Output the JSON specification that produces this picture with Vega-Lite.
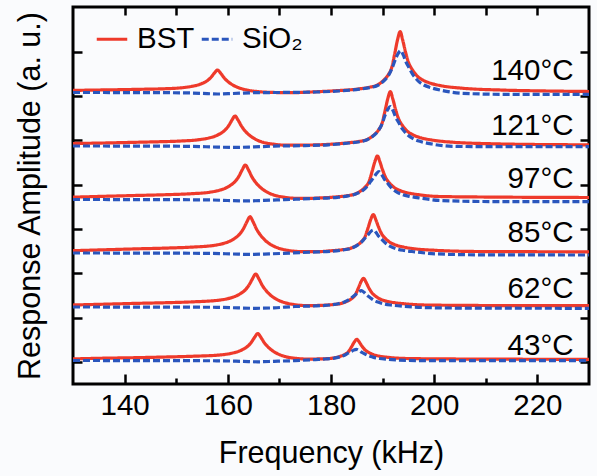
{
  "$schema": "https://vega.github.io/schema/vega-lite/v6.json",
  "width": 516,
  "height": 377,
  "autosize": {"type": "none"},
  "padding": {"left": 73, "top": 7, "right": 8, "bottom": 92},
  "background": "#fafbfd",
  "config": {
    "font": "Liberation Sans",
    "view": {"stroke": "#000", "strokeWidth": 3},
    "axis": {"grid": false, "domain": false, "tickColor": "#000", "tickWidth": 2.5, "labelColor": "#000", "titleColor": "#000", "labelFont": "Liberation Sans", "titleFont": "Liberation Sans", "titleFontWeight": "normal"},
    "legend": {"padding": 0, "offset": 0}
  },
  "datasets": {
    "bst": [
      {"material":"BST","temp":"43","freq":130,"amp":25.1},{"material":"BST","temp":"43","freq":136,"amp":25.8},{"material":"BST","temp":"43","freq":142,"amp":26.3},{"material":"BST","temp":"43","freq":148,"amp":27.0},{"material":"BST","temp":"43","freq":153,"amp":27.7},{"material":"BST","temp":"43","freq":158.8,"amp":29.2},{"material":"BST","temp":"43","freq":160.8,"amp":30.8},{"material":"BST","temp":"43","freq":161.8,"amp":32.1},{"material":"BST","temp":"43","freq":162.8,"amp":34.3},{"material":"BST","temp":"43","freq":163.8,"amp":37.5},{"material":"BST","temp":"43","freq":164.5,"amp":41.3},{"material":"BST","temp":"43","freq":165.2,"amp":46.7},{"material":"BST","temp":"43","freq":165.8,"amp":50.5},{"material":"BST","temp":"43","freq":166.4,"amp":46.7},{"material":"BST","temp":"43","freq":167.1,"amp":41.1},{"material":"BST","temp":"43","freq":167.8,"amp":37.0},{"material":"BST","temp":"43","freq":168.8,"amp":32.8},{"material":"BST","temp":"43","freq":169.8,"amp":29.9},{"material":"BST","temp":"43","freq":171.3,"amp":27.2},{"material":"BST","temp":"43","freq":173.3,"amp":25.6},{"material":"BST","temp":"43","freq":175.8,"amp":24.9},{"material":"BST","temp":"43","freq":177,"amp":25.0},{"material":"BST","temp":"43","freq":179,"amp":25.3},{"material":"BST","temp":"43","freq":180.5,"amp":26.0},{"material":"BST","temp":"43","freq":181.8,"amp":27.7},{"material":"BST","temp":"43","freq":182.6,"amp":29.4},{"material":"BST","temp":"43","freq":183.4,"amp":32.4},{"material":"BST","temp":"43","freq":184.0,"amp":37.4},{"material":"BST","temp":"43","freq":184.5,"amp":41.8},{"material":"BST","temp":"43","freq":185.0,"amp":44.7},{"material":"BST","temp":"43","freq":185.5,"amp":41.7},{"material":"BST","temp":"43","freq":186.0,"amp":37.9},{"material":"BST","temp":"43","freq":186.6,"amp":34.1},{"material":"BST","temp":"43","freq":187.4,"amp":31.3},{"material":"BST","temp":"43","freq":188.2,"amp":29.4},{"material":"BST","temp":"43","freq":189.5,"amp":27.7},{"material":"BST","temp":"43","freq":191,"amp":26.7},{"material":"BST","temp":"43","freq":193,"amp":25.8},{"material":"BST","temp":"43","freq":197,"amp":25.3},{"material":"BST","temp":"43","freq":205,"amp":25.0},{"material":"BST","temp":"43","freq":215,"amp":24.8},{"material":"BST","temp":"43","freq":230,"amp":24.7},
      {"material":"BST","temp":"62","freq":130,"amp":79.0},{"material":"BST","temp":"62","freq":136,"amp":79.8},{"material":"BST","temp":"62","freq":142,"amp":80.6},{"material":"BST","temp":"62","freq":148,"amp":81.3},{"material":"BST","temp":"62","freq":153,"amp":82.1},{"material":"BST","temp":"62","freq":158.4,"amp":83.9},{"material":"BST","temp":"62","freq":160.4,"amp":85.9},{"material":"BST","temp":"62","freq":161.4,"amp":87.6},{"material":"BST","temp":"62","freq":162.4,"amp":90.2},{"material":"BST","temp":"62","freq":163.4,"amp":94.2},{"material":"BST","temp":"62","freq":164.1,"amp":98.8},{"material":"BST","temp":"62","freq":164.8,"amp":105.4},{"material":"BST","temp":"62","freq":165.4,"amp":110.0},{"material":"BST","temp":"62","freq":166.0,"amp":105.4},{"material":"BST","temp":"62","freq":166.7,"amp":98.5},{"material":"BST","temp":"62","freq":167.4,"amp":93.5},{"material":"BST","temp":"62","freq":168.4,"amp":88.3},{"material":"BST","temp":"62","freq":169.4,"amp":84.8},{"material":"BST","temp":"62","freq":170.9,"amp":81.6},{"material":"BST","temp":"62","freq":172.9,"amp":79.4},{"material":"BST","temp":"62","freq":175.4,"amp":78.4},{"material":"BST","temp":"62","freq":178.3,"amp":78.7},{"material":"BST","temp":"62","freq":180.3,"amp":79.4},{"material":"BST","temp":"62","freq":181.8,"amp":80.4},{"material":"BST","temp":"62","freq":183.1,"amp":82.7},{"material":"BST","temp":"62","freq":183.9,"amp":85.0},{"material":"BST","temp":"62","freq":184.7,"amp":89.1},{"material":"BST","temp":"62","freq":185.3,"amp":95.9},{"material":"BST","temp":"62","freq":185.8,"amp":102.0},{"material":"BST","temp":"62","freq":186.3,"amp":105.7},{"material":"BST","temp":"62","freq":186.8,"amp":101.7},{"material":"BST","temp":"62","freq":187.3,"amp":96.5},{"material":"BST","temp":"62","freq":187.9,"amp":91.4},{"material":"BST","temp":"62","freq":188.7,"amp":87.6},{"material":"BST","temp":"62","freq":189.5,"amp":85.0},{"material":"BST","temp":"62","freq":190.8,"amp":82.7},{"material":"BST","temp":"62","freq":192.3,"amp":81.3},{"material":"BST","temp":"62","freq":194.3,"amp":80.2},{"material":"BST","temp":"62","freq":198.3,"amp":79.0},{"material":"BST","temp":"62","freq":206.3,"amp":78.6},{"material":"BST","temp":"62","freq":215,"amp":78.4},{"material":"BST","temp":"62","freq":230,"amp":78.3},
      {"material":"BST","temp":"85","freq":130,"amp":133.3},{"material":"BST","temp":"85","freq":136,"amp":134.2},{"material":"BST","temp":"85","freq":142,"amp":135.1},{"material":"BST","temp":"85","freq":148,"amp":135.9},{"material":"BST","temp":"85","freq":153,"amp":136.9},{"material":"BST","temp":"85","freq":157.3,"amp":138.6},{"material":"BST","temp":"85","freq":159.3,"amp":140.8},{"material":"BST","temp":"85","freq":160.3,"amp":142.6},{"material":"BST","temp":"85","freq":161.3,"amp":145.5},{"material":"BST","temp":"85","freq":162.3,"amp":149.9},{"material":"BST","temp":"85","freq":163.0,"amp":155.0},{"material":"BST","temp":"85","freq":163.7,"amp":162.2},{"material":"BST","temp":"85","freq":164.3,"amp":167.3},{"material":"BST","temp":"85","freq":164.9,"amp":162.2},{"material":"BST","temp":"85","freq":165.6,"amp":154.6},{"material":"BST","temp":"85","freq":166.3,"amp":149.1},{"material":"BST","temp":"85","freq":167.3,"amp":143.4},{"material":"BST","temp":"85","freq":168.3,"amp":139.5},{"material":"BST","temp":"85","freq":169.8,"amp":135.9},{"material":"BST","temp":"85","freq":171.8,"amp":133.5},{"material":"BST","temp":"85","freq":174.3,"amp":132.4},{"material":"BST","temp":"85","freq":177,"amp":132.3},{"material":"BST","temp":"85","freq":180.2,"amp":133.3},{"material":"BST","temp":"85","freq":182.2,"amp":134.3},{"material":"BST","temp":"85","freq":183.7,"amp":135.6},{"material":"BST","temp":"85","freq":185.0,"amp":138.7},{"material":"BST","temp":"85","freq":185.8,"amp":141.8},{"material":"BST","temp":"85","freq":186.6,"amp":147.2},{"material":"BST","temp":"85","freq":187.2,"amp":156.4},{"material":"BST","temp":"85","freq":187.7,"amp":164.5},{"material":"BST","temp":"85","freq":188.2,"amp":169.5},{"material":"BST","temp":"85","freq":188.7,"amp":164.1},{"material":"BST","temp":"85","freq":189.2,"amp":157.2},{"material":"BST","temp":"85","freq":189.8,"amp":150.3},{"material":"BST","temp":"85","freq":190.6,"amp":145.2},{"material":"BST","temp":"85","freq":191.4,"amp":141.8},{"material":"BST","temp":"85","freq":192.7,"amp":138.7},{"material":"BST","temp":"85","freq":194.2,"amp":136.8},{"material":"BST","temp":"85","freq":196.2,"amp":135.2},{"material":"BST","temp":"85","freq":200.2,"amp":133.7},{"material":"BST","temp":"85","freq":208.2,"amp":132.5},{"material":"BST","temp":"85","freq":218,"amp":132.3},{"material":"BST","temp":"85","freq":230,"amp":132.2},
      {"material":"BST","temp":"97","freq":130,"amp":186.8},{"material":"BST","temp":"97","freq":136,"amp":187.7},{"material":"BST","temp":"97","freq":142,"amp":188.5},{"material":"BST","temp":"97","freq":148,"amp":189.3},{"material":"BST","temp":"97","freq":153,"amp":190.3},{"material":"BST","temp":"97","freq":156.4,"amp":191.7},{"material":"BST","temp":"97","freq":158.4,"amp":193.8},{"material":"BST","temp":"97","freq":159.4,"amp":195.5},{"material":"BST","temp":"97","freq":160.4,"amp":198.3},{"material":"BST","temp":"97","freq":161.4,"amp":202.4},{"material":"BST","temp":"97","freq":162.1,"amp":207.3},{"material":"BST","temp":"97","freq":162.8,"amp":214.2},{"material":"BST","temp":"97","freq":163.4,"amp":219.0},{"material":"BST","temp":"97","freq":164.0,"amp":214.2},{"material":"BST","temp":"97","freq":164.7,"amp":206.9},{"material":"BST","temp":"97","freq":165.4,"amp":201.6},{"material":"BST","temp":"97","freq":166.4,"amp":196.2},{"material":"BST","temp":"97","freq":167.4,"amp":192.5},{"material":"BST","temp":"97","freq":168.9,"amp":189.0},{"material":"BST","temp":"97","freq":170.9,"amp":186.8},{"material":"BST","temp":"97","freq":173.4,"amp":185.7},{"material":"BST","temp":"97","freq":176,"amp":185.7},{"material":"BST","temp":"97","freq":178,"amp":186.1},{"material":"BST","temp":"97","freq":181,"amp":187.1},{"material":"BST","temp":"97","freq":183,"amp":188.2},{"material":"BST","temp":"97","freq":184.5,"amp":189.7},{"material":"BST","temp":"97","freq":185.8,"amp":193.2},{"material":"BST","temp":"97","freq":186.6,"amp":196.7},{"material":"BST","temp":"97","freq":187.4,"amp":202.8},{"material":"BST","temp":"97","freq":188.0,"amp":213.2},{"material":"BST","temp":"97","freq":188.5,"amp":222.3},{"material":"BST","temp":"97","freq":189.0,"amp":228.0},{"material":"BST","temp":"97","freq":189.5,"amp":221.9},{"material":"BST","temp":"97","freq":190.0,"amp":214.1},{"material":"BST","temp":"97","freq":190.6,"amp":206.3},{"material":"BST","temp":"97","freq":191.4,"amp":200.6},{"material":"BST","temp":"97","freq":192.2,"amp":196.7},{"material":"BST","temp":"97","freq":193.5,"amp":193.2},{"material":"BST","temp":"97","freq":195,"amp":191.0},{"material":"BST","temp":"97","freq":197,"amp":189.3},{"material":"BST","temp":"97","freq":201,"amp":187.5},{"material":"BST","temp":"97","freq":209,"amp":187.0},{"material":"BST","temp":"97","freq":218,"amp":186.7},{"material":"BST","temp":"97","freq":230,"amp":186.5},
      {"material":"BST","temp":"121","freq":130,"amp":240.5},{"material":"BST","temp":"121","freq":136,"amp":241.0},{"material":"BST","temp":"121","freq":142,"amp":241.7},{"material":"BST","temp":"121","freq":147,"amp":242.3},{"material":"BST","temp":"121","freq":151,"amp":243.0},{"material":"BST","temp":"121","freq":154.4,"amp":244.3},{"material":"BST","temp":"121","freq":156.4,"amp":246.1},{"material":"BST","temp":"121","freq":157.4,"amp":247.6},{"material":"BST","temp":"121","freq":158.4,"amp":250.0},{"material":"BST","temp":"121","freq":159.4,"amp":253.6},{"material":"BST","temp":"121","freq":160.1,"amp":257.8},{"material":"BST","temp":"121","freq":160.8,"amp":263.8},{"material":"BST","temp":"121","freq":161.4,"amp":268.0},{"material":"BST","temp":"121","freq":162.0,"amp":263.8},{"material":"BST","temp":"121","freq":162.7,"amp":257.5},{"material":"BST","temp":"121","freq":163.4,"amp":252.7},{"material":"BST","temp":"121","freq":164.4,"amp":247.9},{"material":"BST","temp":"121","freq":165.4,"amp":244.6},{"material":"BST","temp":"121","freq":166.9,"amp":241.6},{"material":"BST","temp":"121","freq":168.9,"amp":239.8},{"material":"BST","temp":"121","freq":171.4,"amp":238.8},{"material":"BST","temp":"121","freq":175,"amp":238.9},{"material":"BST","temp":"121","freq":179,"amp":239.5},{"material":"BST","temp":"121","freq":183.5,"amp":241.3},{"material":"BST","temp":"121","freq":185.5,"amp":242.6},{"material":"BST","temp":"121","freq":187,"amp":244.5},{"material":"BST","temp":"121","freq":188.3,"amp":248.9},{"material":"BST","temp":"121","freq":189.1,"amp":253.2},{"material":"BST","temp":"121","freq":189.9,"amp":260.8},{"material":"BST","temp":"121","freq":190.5,"amp":273.8},{"material":"BST","temp":"121","freq":191.0,"amp":285.2},{"material":"BST","temp":"121","freq":191.5,"amp":292.3},{"material":"BST","temp":"121","freq":192.0,"amp":284.7},{"material":"BST","temp":"121","freq":192.5,"amp":274.9},{"material":"BST","temp":"121","freq":193.1,"amp":265.2},{"material":"BST","temp":"121","freq":193.9,"amp":258.1},{"material":"BST","temp":"121","freq":194.7,"amp":253.2},{"material":"BST","temp":"121","freq":196,"amp":248.9},{"material":"BST","temp":"121","freq":197.5,"amp":246.1},{"material":"BST","temp":"121","freq":199.5,"amp":244.0},{"material":"BST","temp":"121","freq":203.5,"amp":241.8},{"material":"BST","temp":"121","freq":211.5,"amp":240.2},{"material":"BST","temp":"121","freq":220,"amp":239.5},{"material":"BST","temp":"121","freq":230,"amp":239.2},
      {"material":"BST","temp":"140","freq":130,"amp":293.6},{"material":"BST","temp":"140","freq":135,"amp":294.0},{"material":"BST","temp":"140","freq":140,"amp":294.4},{"material":"BST","temp":"140","freq":144,"amp":294.8},{"material":"BST","temp":"140","freq":148,"amp":295.3},{"material":"BST","temp":"140","freq":151,"amp":296.2},{"material":"BST","temp":"140","freq":153,"amp":297.6},{"material":"BST","temp":"140","freq":154,"amp":298.7},{"material":"BST","temp":"140","freq":155,"amp":300.5},{"material":"BST","temp":"140","freq":156,"amp":303.2},{"material":"BST","temp":"140","freq":156.7,"amp":306.4},{"material":"BST","temp":"140","freq":157.4,"amp":310.9},{"material":"BST","temp":"140","freq":158.0,"amp":314.0},{"material":"BST","temp":"140","freq":158.6,"amp":310.9},{"material":"BST","temp":"140","freq":159.3,"amp":306.1},{"material":"BST","temp":"140","freq":160,"amp":302.5},{"material":"BST","temp":"140","freq":161,"amp":298.9},{"material":"BST","temp":"140","freq":162,"amp":296.5},{"material":"BST","temp":"140","freq":163.5,"amp":294.2},{"material":"BST","temp":"140","freq":165.5,"amp":292.6},{"material":"BST","temp":"140","freq":168,"amp":291.7},{"material":"BST","temp":"140","freq":172,"amp":291.3},{"material":"BST","temp":"140","freq":177,"amp":292.2},{"material":"BST","temp":"140","freq":181,"amp":293.3},{"material":"BST","temp":"140","freq":185.4,"amp":295.1},{"material":"BST","temp":"140","freq":187.4,"amp":296.7},{"material":"BST","temp":"140","freq":188.9,"amp":298.8},{"material":"BST","temp":"140","freq":190.2,"amp":303.7},{"material":"BST","temp":"140","freq":191.0,"amp":308.5},{"material":"BST","temp":"140","freq":191.8,"amp":317.0},{"material":"BST","temp":"140","freq":192.4,"amp":331.6},{"material":"BST","temp":"140","freq":192.9,"amp":344.4},{"material":"BST","temp":"140","freq":193.4,"amp":352.3},{"material":"BST","temp":"140","freq":193.9,"amp":343.8},{"material":"BST","temp":"140","freq":194.4,"amp":332.8},{"material":"BST","temp":"140","freq":195.0,"amp":321.9},{"material":"BST","temp":"140","freq":195.8,"amp":314.0},{"material":"BST","temp":"140","freq":196.6,"amp":308.5},{"material":"BST","temp":"140","freq":197.9,"amp":303.7},{"material":"BST","temp":"140","freq":199.4,"amp":300.6},{"material":"BST","temp":"140","freq":201.4,"amp":298.2},{"material":"BST","temp":"140","freq":205.4,"amp":295.8},{"material":"BST","temp":"140","freq":213.4,"amp":293.9},{"material":"BST","temp":"140","freq":222,"amp":293.0},{"material":"BST","temp":"140","freq":230,"amp":292.5}
    ],
    "sio2": [
      {"material":"SiO₂","temp":"43","freq":130,"amp":23.5},{"material":"SiO₂","temp":"43","freq":145,"amp":23.4},{"material":"SiO₂","temp":"43","freq":158,"amp":23.2},{"material":"SiO₂","temp":"43","freq":163,"amp":22.6},{"material":"SiO₂","temp":"43","freq":165.8,"amp":22.2},{"material":"SiO₂","temp":"43","freq":169,"amp":22.7},{"material":"SiO₂","temp":"43","freq":173,"amp":23.4},{"material":"SiO₂","temp":"43","freq":177,"amp":24.4},{"material":"SiO₂","temp":"43","freq":179,"amp":25.0},{"material":"SiO₂","temp":"43","freq":180.4,"amp":25.7},{"material":"SiO₂","temp":"43","freq":181.7,"amp":27.1},{"material":"SiO₂","temp":"43","freq":182.5,"amp":28.5},{"material":"SiO₂","temp":"43","freq":183.3,"amp":30.8},{"material":"SiO₂","temp":"43","freq":183.9,"amp":32.5},{"material":"SiO₂","temp":"43","freq":184.4,"amp":33.9},{"material":"SiO₂","temp":"43","freq":184.9,"amp":34.7},{"material":"SiO₂","temp":"43","freq":185.4,"amp":33.6},{"material":"SiO₂","temp":"43","freq":185.9,"amp":31.8},{"material":"SiO₂","temp":"43","freq":186.5,"amp":30.2},{"material":"SiO₂","temp":"43","freq":187.3,"amp":28.2},{"material":"SiO₂","temp":"43","freq":188.1,"amp":26.9},{"material":"SiO₂","temp":"43","freq":189.4,"amp":25.5},{"material":"SiO₂","temp":"43","freq":190.9,"amp":24.7},{"material":"SiO₂","temp":"43","freq":192.9,"amp":24.0},{"material":"SiO₂","temp":"43","freq":197,"amp":23.4},{"material":"SiO₂","temp":"43","freq":205,"amp":23.3},{"material":"SiO₂","temp":"43","freq":230,"amp":23.3},
      {"material":"SiO₂","temp":"62","freq":130,"amp":77.0},{"material":"SiO₂","temp":"62","freq":145,"amp":76.9},{"material":"SiO₂","temp":"62","freq":158,"amp":76.7},{"material":"SiO₂","temp":"62","freq":162,"amp":76.1},{"material":"SiO₂","temp":"62","freq":165.4,"amp":75.7},{"material":"SiO₂","temp":"62","freq":169,"amp":76.2},{"material":"SiO₂","temp":"62","freq":173,"amp":77.5},{"material":"SiO₂","temp":"62","freq":177.9,"amp":78.3},{"material":"SiO₂","temp":"62","freq":179.9,"amp":79.1},{"material":"SiO₂","temp":"62","freq":181.4,"amp":80.3},{"material":"SiO₂","temp":"62","freq":182.7,"amp":82.2},{"material":"SiO₂","temp":"62","freq":183.5,"amp":84.3},{"material":"SiO₂","temp":"62","freq":184.3,"amp":87.6},{"material":"SiO₂","temp":"62","freq":184.9,"amp":90.0},{"material":"SiO₂","temp":"62","freq":185.4,"amp":92.2},{"material":"SiO₂","temp":"62","freq":185.9,"amp":93.3},{"material":"SiO₂","temp":"62","freq":186.4,"amp":91.7},{"material":"SiO₂","temp":"62","freq":186.9,"amp":89.1},{"material":"SiO₂","temp":"62","freq":187.5,"amp":86.8},{"material":"SiO₂","temp":"62","freq":188.3,"amp":83.8},{"material":"SiO₂","temp":"62","freq":189.1,"amp":81.9},{"material":"SiO₂","temp":"62","freq":190.4,"amp":79.9},{"material":"SiO₂","temp":"62","freq":191.9,"amp":78.8},{"material":"SiO₂","temp":"62","freq":193.9,"amp":77.8},{"material":"SiO₂","temp":"62","freq":197.9,"amp":76.5},{"material":"SiO₂","temp":"62","freq":206,"amp":75.9},{"material":"SiO₂","temp":"62","freq":230,"amp":75.7},
      {"material":"SiO₂","temp":"85","freq":130,"amp":131.0},{"material":"SiO₂","temp":"85","freq":145,"amp":130.9},{"material":"SiO₂","temp":"85","freq":157,"amp":130.6},{"material":"SiO₂","temp":"85","freq":161,"amp":130.0},{"material":"SiO₂","temp":"85","freq":164.3,"amp":129.6},{"material":"SiO₂","temp":"85","freq":168,"amp":130.1},{"material":"SiO₂","temp":"85","freq":172,"amp":130.9},{"material":"SiO₂","temp":"85","freq":176.2,"amp":131.9},{"material":"SiO₂","temp":"85","freq":180.2,"amp":132.8},{"material":"SiO₂","temp":"85","freq":182.2,"amp":134.0},{"material":"SiO₂","temp":"85","freq":183.7,"amp":135.3},{"material":"SiO₂","temp":"85","freq":185.0,"amp":138.4},{"material":"SiO₂","temp":"85","freq":185.8,"amp":141.4},{"material":"SiO₂","temp":"85","freq":186.6,"amp":146.0},{"material":"SiO₂","temp":"85","freq":187.2,"amp":149.4},{"material":"SiO₂","temp":"85","freq":187.7,"amp":152.4},{"material":"SiO₂","temp":"85","freq":188.2,"amp":154.0},{"material":"SiO₂","temp":"85","freq":188.7,"amp":151.7},{"material":"SiO₂","temp":"85","freq":189.2,"amp":148.0},{"material":"SiO₂","temp":"85","freq":189.8,"amp":144.8},{"material":"SiO₂","temp":"85","freq":190.6,"amp":140.7},{"material":"SiO₂","temp":"85","freq":191.4,"amp":137.9},{"material":"SiO₂","temp":"85","freq":192.7,"amp":135.1},{"material":"SiO₂","temp":"85","freq":194.2,"amp":133.5},{"material":"SiO₂","temp":"85","freq":196.2,"amp":132.2},{"material":"SiO₂","temp":"85","freq":200.2,"amp":130.2},{"material":"SiO₂","temp":"85","freq":208.2,"amp":129.2},{"material":"SiO₂","temp":"85","freq":230,"amp":129.0},
      {"material":"SiO₂","temp":"97","freq":130,"amp":184.5},{"material":"SiO₂","temp":"97","freq":145,"amp":184.4},{"material":"SiO₂","temp":"97","freq":156,"amp":184.1},{"material":"SiO₂","temp":"97","freq":160,"amp":183.5},{"material":"SiO₂","temp":"97","freq":163.4,"amp":183.1},{"material":"SiO₂","temp":"97","freq":167,"amp":183.6},{"material":"SiO₂","temp":"97","freq":171,"amp":184.4},{"material":"SiO₂","temp":"97","freq":177.3,"amp":185.6},{"material":"SiO₂","temp":"97","freq":181.3,"amp":186.7},{"material":"SiO₂","temp":"97","freq":183.3,"amp":188.1},{"material":"SiO₂","temp":"97","freq":184.8,"amp":190.1},{"material":"SiO₂","temp":"97","freq":186.1,"amp":193.4},{"material":"SiO₂","temp":"97","freq":186.9,"amp":197.0},{"material":"SiO₂","temp":"97","freq":187.7,"amp":202.6},{"material":"SiO₂","temp":"97","freq":188.3,"amp":206.7},{"material":"SiO₂","temp":"97","freq":188.8,"amp":210.4},{"material":"SiO₂","temp":"97","freq":189.3,"amp":212.3},{"material":"SiO₂","temp":"97","freq":189.8,"amp":209.5},{"material":"SiO₂","temp":"97","freq":190.3,"amp":205.1},{"material":"SiO₂","temp":"97","freq":190.9,"amp":201.2},{"material":"SiO₂","temp":"97","freq":191.7,"amp":196.2},{"material":"SiO₂","temp":"97","freq":192.5,"amp":192.8},{"material":"SiO₂","temp":"97","freq":193.8,"amp":189.5},{"material":"SiO₂","temp":"97","freq":195.3,"amp":187.6},{"material":"SiO₂","temp":"97","freq":197.3,"amp":185.9},{"material":"SiO₂","temp":"97","freq":201.3,"amp":183.5},{"material":"SiO₂","temp":"97","freq":209.3,"amp":182.5},{"material":"SiO₂","temp":"97","freq":230,"amp":182.3},
      {"material":"SiO₂","temp":"121","freq":130,"amp":238.0},{"material":"SiO₂","temp":"121","freq":145,"amp":237.9},{"material":"SiO₂","temp":"121","freq":153,"amp":237.6},{"material":"SiO₂","temp":"121","freq":158,"amp":236.9},{"material":"SiO₂","temp":"121","freq":161.4,"amp":236.6},{"material":"SiO₂","temp":"121","freq":165,"amp":237.1},{"material":"SiO₂","temp":"121","freq":169,"amp":237.9},{"material":"SiO₂","temp":"121","freq":175,"amp":238.4},{"material":"SiO₂","temp":"121","freq":179.5,"amp":239.2},{"material":"SiO₂","temp":"121","freq":183.5,"amp":241.0},{"material":"SiO₂","temp":"121","freq":185.5,"amp":242.3},{"material":"SiO₂","temp":"121","freq":187,"amp":244.2},{"material":"SiO₂","temp":"121","freq":188.3,"amp":248.6},{"material":"SiO₂","temp":"121","freq":189.1,"amp":252.9},{"material":"SiO₂","temp":"121","freq":189.9,"amp":260.3},{"material":"SiO₂","temp":"121","freq":190.5,"amp":269.0},{"material":"SiO₂","temp":"121","freq":191.0,"amp":274.5},{"material":"SiO₂","temp":"121","freq":191.5,"amp":277.5},{"material":"SiO₂","temp":"121","freq":192.0,"amp":273.6},{"material":"SiO₂","temp":"121","freq":192.5,"amp":267.2},{"material":"SiO₂","temp":"121","freq":193.1,"amp":261.7},{"material":"SiO₂","temp":"121","freq":193.9,"amp":254.6},{"material":"SiO₂","temp":"121","freq":194.7,"amp":249.9},{"material":"SiO₂","temp":"121","freq":196.0,"amp":245.1},{"material":"SiO₂","temp":"121","freq":197.5,"amp":242.3},{"material":"SiO₂","temp":"121","freq":199.5,"amp":240.0},{"material":"SiO₂","temp":"121","freq":203.5,"amp":237.7},{"material":"SiO₂","temp":"121","freq":211.5,"amp":237.3},{"material":"SiO₂","temp":"121","freq":230,"amp":237.3},
      {"material":"SiO₂","temp":"140","freq":130,"amp":291.5},{"material":"SiO₂","temp":"140","freq":145,"amp":291.4},{"material":"SiO₂","temp":"140","freq":153,"amp":291.0},{"material":"SiO₂","temp":"140","freq":156,"amp":290.4},{"material":"SiO₂","temp":"140","freq":158,"amp":290.0},{"material":"SiO₂","temp":"140","freq":161,"amp":290.5},{"material":"SiO₂","temp":"140","freq":165,"amp":291.3},{"material":"SiO₂","temp":"140","freq":172,"amp":291.6},{"material":"SiO₂","temp":"140","freq":177,"amp":292.0},{"material":"SiO₂","temp":"140","freq":181.5,"amp":293.0},{"material":"SiO₂","temp":"140","freq":185.5,"amp":294.8},{"material":"SiO₂","temp":"140","freq":187.5,"amp":296.4},{"material":"SiO₂","temp":"140","freq":189.0,"amp":298.5},{"material":"SiO₂","temp":"140","freq":190.3,"amp":303.4},{"material":"SiO₂","temp":"140","freq":191.1,"amp":308.2},{"material":"SiO₂","temp":"140","freq":191.9,"amp":316.7},{"material":"SiO₂","temp":"140","freq":192.5,"amp":324.9},{"material":"SiO₂","temp":"140","freq":193.0,"amp":330.4},{"material":"SiO₂","temp":"140","freq":193.5,"amp":333.3},{"material":"SiO₂","temp":"140","freq":194.0,"amp":329.1},{"material":"SiO₂","temp":"140","freq":194.5,"amp":322.4},{"material":"SiO₂","temp":"140","freq":195.1,"amp":316.6},{"material":"SiO₂","temp":"140","freq":195.9,"amp":309.1},{"material":"SiO₂","temp":"140","freq":196.7,"amp":304.0},{"material":"SiO₂","temp":"140","freq":198.0,"amp":299.0},{"material":"SiO₂","temp":"140","freq":199.5,"amp":296.1},{"material":"SiO₂","temp":"140","freq":201.5,"amp":293.6},{"material":"SiO₂","temp":"140","freq":205.5,"amp":290.7},{"material":"SiO₂","temp":"140","freq":213.5,"amp":289.7},{"material":"SiO₂","temp":"140","freq":230,"amp":289.7}
    ],
    "labels": [
      {"label":"140°C","freq":227,"amp":304},
      {"label":"121°C","freq":227,"amp":249},
      {"label":"97°C","freq":227,"amp":196},
      {"label":"85°C","freq":227,"amp":142},
      {"label":"62°C","freq":227,"amp":86},
      {"label":"43°C","freq":227,"amp":29}
    ]
  },
  "resolve": {"axis": {"x": "independent", "y": "independent"}},
  "layer": [
    {
      "data": {"name": "bst"},
      "mark": {"type": "line", "interpolate": "monotone", "strokeWidth": 3.2},
      "encoding": {
        "x": {"field": "freq", "type": "quantitative", "scale": {"domain": [130, 230], "nice": false, "zero": false},
              "axis": {"orient": "bottom", "values": [140, 160, 180, 200, 220], "tickSize": -10, "labelFontSize": 29.5, "labelPadding": 17, "labelBaseline": "top", "title": "Frequency (kHz)", "titleFontSize": 30.5, "titlePadding": 19}},
        "y": {"field": "amp", "type": "quantitative", "scale": {"domain": [0, 377], "nice": false, "zero": false},
              "axis": {"orient": "left", "values": [22, 66.4, 110.7, 155, 199.4, 243.7, 288, 332.4], "tickSize": -9, "labels": false, "title": "Response Amplitude (a. u.)", "titleFontSize": 30.5, "titlePadding": 26}},
        "detail": {"field": "temp"},
        "color": {"field": "material", "type": "nominal", "scale": {"domain": ["BST", "SiO₂"], "range": ["#ee3a2b", "#2a56bd"]},
                  "legend": {"title": null, "orient": "none", "legendX": 22, "legendY": 15, "direction": "horizontal", "symbolType": "stroke", "symbolSize": 930, "symbolStrokeWidth": 3, "labelFontSize": 29.5, "labelOffset": 8, "columnPadding": 0, "labelColor": "#000", "labelFont": "Liberation Sans"}},
        "strokeDash": {"field": "material", "type": "nominal", "scale": {"domain": ["BST", "SiO₂"], "range": [[1, 0], [7, 3]]},
                  "legend": {"title": null, "orient": "none", "legendX": 22, "legendY": 15, "direction": "horizontal", "symbolType": "stroke", "symbolSize": 930, "symbolStrokeWidth": 3, "labelFontSize": 29.5, "labelOffset": 8, "columnPadding": 0, "labelColor": "#000", "labelFont": "Liberation Sans"}}
      }
    },
    {
      "data": {"name": "sio2"},
      "mark": {"type": "line", "interpolate": "monotone", "strokeWidth": 3.2},
      "encoding": {
        "x": {"field": "freq", "type": "quantitative",
              "axis": {"orient": "bottom", "values": [150, 170, 190, 210], "tickSize": -6, "labels": false, "title": null}},
        "y": {"field": "amp", "type": "quantitative",
              "axis": {"orient": "right", "values": [22, 66.4, 110.7, 155, 199.4, 243.7, 288, 332.4], "tickSize": -9, "labels": false, "title": null}},
        "detail": {"field": "temp"},
        "color": {"field": "material", "type": "nominal",
                  "legend": {"title": null, "orient": "none", "legendX": 22, "legendY": 15, "direction": "horizontal", "symbolType": "stroke", "symbolSize": 930, "symbolStrokeWidth": 3, "labelFontSize": 29.5, "labelOffset": 8, "columnPadding": 0, "labelColor": "#000", "labelFont": "Liberation Sans"}},
        "strokeDash": {"field": "material", "type": "nominal",
                  "legend": {"title": null, "orient": "none", "legendX": 22, "legendY": 15, "direction": "horizontal", "symbolType": "stroke", "symbolSize": 930, "symbolStrokeWidth": 3, "labelFontSize": 29.5, "labelOffset": 8, "columnPadding": 0, "labelColor": "#000", "labelFont": "Liberation Sans"}}
      }
    },
    {
      "data": {"name": "labels"},
      "mark": {"type": "text", "align": "right", "baseline": "alphabetic", "fontSize": 29.5, "color": "#000", "font": "Liberation Sans"},
      "encoding": {
        "x": {"field": "freq", "type": "quantitative",
              "axis": {"orient": "top", "values": [140, 150, 160, 170, 180, 190, 200, 210, 220], "tickSize": -8, "labels": false, "title": null}},
        "y": {"field": "amp", "type": "quantitative", "axis": null},
        "text": {"field": "label"}
      }
    }
  ]
}
